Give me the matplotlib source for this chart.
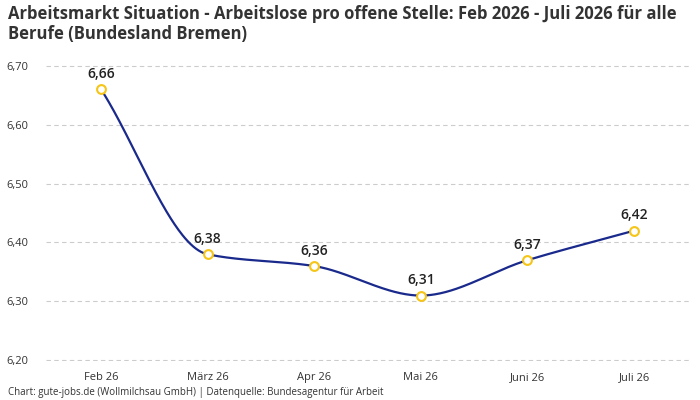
import numpy as np
import matplotlib
matplotlib.use("Agg")
import matplotlib.pyplot as plt

categories = ["Feb 26", "März 26", "Apr 26", "Mai 26", "Juni 26", "Juli 26"]
values = [6.66, 6.38, 6.36, 6.31, 6.37, 6.42]
yticks = [6.20, 6.30, 6.40, 6.50, 6.60, 6.70]

plt.rcParams['font.family'] = ['Open Sans', 'DejaVu Sans']

def pchip(x, y, xs):
    x = np.asarray(x, float); y = np.asarray(y, float)
    h = np.diff(x); d = np.diff(y) / h
    m = np.zeros_like(y)
    for k in range(1, len(y) - 1):
        if d[k-1] * d[k] > 0:
            w1 = 2*h[k] + h[k-1]; w2 = h[k] + 2*h[k-1]
            m[k] = (w1 + w2) / (w1/d[k-1] + w2/d[k])
    m[0] = d[0]; m[-1] = d[-1]
    out = np.empty_like(xs)
    for i, t in enumerate(xs):
        k = min(np.searchsorted(x, t, side='right') - 1, len(x) - 2)
        s = (t - x[k]) / h[k]
        h00 = 2*s**3 - 3*s**2 + 1; h10 = s**3 - 2*s**2 + s
        h01 = -2*s**3 + 3*s**2; h11 = s**3 - s**2
        out[i] = h00*y[k] + h10*h[k]*m[k] + h01*y[k+1] + h11*h[k]*m[k+1]
    return out

fig = plt.figure(figsize=(7, 4), dpi=100)
ax = fig.add_axes([0.065, 0.0975, 0.92, 0.74])
x = np.arange(len(values))
xs = np.linspace(0, len(values) - 1, 400)
ax.plot(xs, pchip(x, values, xs), color="#1a2a8c", lw=1.6, zorder=2)
ax.scatter(x, values, s=40, facecolor="white", edgecolor="#f5c518", lw=1.5, zorder=3)
for xi, v in zip(x, values):
    ax.annotate(f"{v:.2f}".replace(".", ","), (xi, v), xytext=(0, 6), textcoords="offset points",
                ha="center", va="bottom", fontsize=10, fontweight="semibold", color="#222222")
ax.set_ylim(6.199, 6.701)
ax.set_xlim(-0.52, 5.52)
ax.set_yticks(yticks)
ax.set_yticklabels([f"{t:.2f}".replace(".", ",") for t in yticks])
ax.set_xticks(x)
ax.set_xticklabels(categories)
ax.tick_params(axis='x', length=0, labelsize=8, colors="#333333", pad=8)
ax.tick_params(axis='y', length=0, labelsize=8, colors="#333333", pad=12)
ax.grid(axis='y', linestyle=(0, (4, 3)), color="#cccccc", lw=0.8)
for s in ax.spines.values():
    s.set_visible(False)
fig.text(0.012, 0.988, "Arbeitsmarkt Situation - Arbeitslose pro offene Stelle: Feb 2026 - Juli 2026 für alle\nBerufe (Bundesland Bremen)",
         ha="left", va="top", fontsize=12.0, fontweight="bold", color="#333333", linespacing=1.15)
fig.text(0.012, 0.005, "Chart: gute-jobs.de (Wollmilchsau GmbH) | Datenquelle: Bundesagentur für Arbeit",
         ha="left", va="bottom", fontsize=7, color="#333333")
fig.savefig("out.png", dpi=100)
